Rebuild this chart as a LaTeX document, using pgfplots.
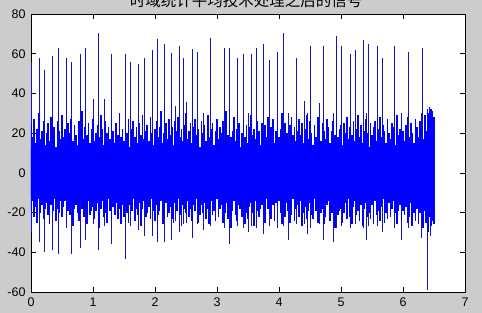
\documentclass[border=0pt]{standalone}
\usepackage{pgfplots}
\pgfplotsset{compat=1.18}
\usepackage{pgfplotstable}
\usepackage{fontspec}
\setmainfont{Liberation Sans}
\newfontfamily\cjk{Noto Sans CJK SC}
\definecolor{figbg}{RGB}{204,204,204}
\definecolor{sig}{RGB}{0,0,255}
\definecolor{spk}{RGB}{20,20,180}

\pgfplotstableread{
x t b
0.000 24 -19
0.025 18 -14
0.050 27 -22
0.075 15 -17
0.100 22 -25
0.125 30 -13
0.150 17 -20
0.175 21 -16
0.200 26 -23
0.225 14 -18
0.250 20 -15
0.275 25 -21
0.300 16 -26
0.325 28 -16
0.350 19 -19
0.375 23 -13
0.400 13 -24
0.425 26 -18
0.450 21 -20
0.475 17 -14
0.500 29 -22
0.525 18 -17
0.550 22 -14
0.575 15 -25
0.600 25 -19
0.625 20 -21
0.650 27 -15
0.675 16 -27
0.700 24 -18
0.725 19 -16
0.750 14 -20
0.775 26 -24
0.800 21 -13
0.825 31 -18
0.850 17 -22
0.875 23 -16
0.900 19 -26
0.925 25 -14
0.950 15 -21
0.975 22 -19
1.000 27 -17
1.025 16 -23
1.050 20 -19
1.075 24 -15
1.100 18 -28
1.125 29 -18
1.150 22 -14
1.175 14 -22
1.200 26 -20
1.225 20 -25
1.250 23 -13
1.275 17 -19
1.300 28 -24
1.325 21 -17
1.350 15 -21
1.375 25 -15
1.400 19 -23
1.425 30 -18
1.450 18 -26
1.475 22 -16
1.500 16 -22
1.525 24 -14
1.550 20 -20
1.575 27 -25
1.600 13 -16
1.625 22 -19
1.650 26 -13
1.675 18 -24
1.700 23 -18
1.725 15 -21
1.750 25 -15
1.775 19 -27
1.800 29 -18
1.825 17 -14
1.850 21 -22
1.875 24 -20
1.900 16 -17
1.925 28 -23
1.950 20 -13
1.975 14 -19
2.000 22 -24
2.025 26 -16
2.050 18 -21
2.075 23 -19
2.100 31 -14
2.125 15 -26
2.150 20 -18
2.175 25 -15
2.200 17 -22
2.225 27 -20
2.250 19 -17
2.275 23 -23
2.300 14 -25
2.325 26 -15
2.350 21 -19
2.375 28 -13
2.400 18 -21
2.425 22 -27
2.450 16 -16
2.475 24 -18
2.500 30 -20
2.525 17 -14
2.550 21 -22
2.575 25 -18
2.600 15 -24
2.625 23 -16
2.650 27 -19
2.675 19 -13
2.700 22 -25
2.725 13 -21
2.750 26 -16
2.775 20 -20
2.800 24 -15
2.825 16 -23
2.850 29 -18
2.875 18 -26
2.900 22 -14
2.925 25 -21
2.950 14 -19
2.975 21 -24
3.000 27 -13
3.025 17 -22
3.050 23 -18
3.075 20 -16
3.100 26 -25
3.125 15 -20
3.150 31 -15
3.175 19 -23
3.200 24 -17
3.225 18 -28
3.250 21 -19
3.275 28 -14
3.300 16 -21
3.325 22 -24
3.350 25 -16
3.375 13 -18
3.400 20 -22
3.425 27 -13
3.450 18 -26
3.475 24 -20
3.500 15 -23
3.525 23 -17
3.550 29 -15
3.575 19 -20
3.600 22 -27
3.625 17 -14
3.650 26 -19
3.675 21 -22
3.700 14 -18
3.725 25 -16
3.750 20 -21
3.775 24 -25
3.800 18 -13
3.825 28 -18
3.850 16 -20
3.875 23 -23
3.900 27 -16
3.925 15 -24
3.950 21 -15
3.975 26 -19
4.000 18 -14
4.025 22 -20
4.050 30 -26
4.075 17 -17
4.100 25 -22
4.125 20 -15
4.150 14 -19
4.175 24 -25
4.200 28 -21
4.225 19 -13
4.250 23 -24
4.275 16 -18
4.300 21 -16
4.325 27 -22
4.350 19 -14
4.375 25 -27
4.400 15 -20
4.425 22 -17
4.450 29 -23
4.475 17 -19
4.500 26 -15
4.525 20 -21
4.550 14 -23
4.575 24 -13
4.600 18 -19
4.625 28 -25
4.650 22 -16
4.675 16 -20
4.700 25 -18
4.725 21 -26
4.750 17 -22
4.775 27 -16
4.800 23 -14
4.825 15 -24
4.850 21 -20
4.875 26 -17
4.900 19 -28
4.925 30 -15
4.950 18 -21
4.975 22 -19
5.000 24 -18
5.025 14 -25
5.050 25 -20
5.075 20 -15
5.100 28 -23
5.125 17 -13
5.150 23 -22
5.175 19 -26
5.200 26 -17
5.225 16 -14
5.250 22 -21
5.275 29 -19
5.300 18 -24
5.325 24 -16
5.350 15 -27
5.375 21 -18
5.400 27 -15
5.425 20 -22
5.450 13 -20
5.475 25 -23
5.500 19 -16
5.525 23 -26
5.550 26 -14
5.575 16 -21
5.600 22 -19
5.625 28 -24
5.650 18 -17
5.675 24 -13
5.700 21 -25
5.725 15 -20
5.750 27 -23
5.775 20 -15
5.800 17 -22
5.825 25 -18
5.850 23 -14
5.875 14 -20
5.900 29 -26
5.925 19 -19
5.950 22 -16
5.975 26 -24
6.000 21 -19
6.025 16 -21
6.050 24 -17
6.075 28 -25
6.100 18 -22
6.125 25 -15
6.150 20 -27
6.175 15 -20
6.200 27 -24
6.225 23 -18
6.250 18 -26
6.275 26 -20
6.300 22 -23
6.325 17 -28
6.350 29 -19
6.375 21 -25
6.400 30 -30
6.425 33 -22
6.450 32 -27
6.475 31 -24
6.500 28 -26
}\body

\pgfplotstableread{
x t b
0.00 56 -30
0.14 58 -35
0.22 52 -40
0.34 59 -39
0.45 63 -41
0.57 58 -28
0.65 56 -41
0.79 60 -38
0.88 63 -34
1.00 37 -26
1.09 70.5 -39
1.19 37 -27
1.30 60 -36
1.52 60 -43.5
1.60 56 -27
1.73 55 -29
1.83 58 -32
1.96 62 -32
2.04 67.5 -35
2.15 65 -35
2.27 60.5 -34
2.33 33.5 -24
2.39 64 -30
2.46 58 -26
2.51 35.5 -25
2.60 62.5 -33
2.68 61 -26
2.78 30 -29
2.89 68 -27
3.12 63 -28
3.20 63 -36
3.33 58 -27
3.42 60 -28
3.50 30 -30
3.55 60 -27
3.63 63 -28
3.75 65 -31
3.84 57 -27
3.97 61 -28
4.07 70.5 -27
4.15 30 -34
4.28 58 -26
4.41 36 -26
4.46 30 -31
4.50 64 -28
4.65 35 -26
4.71 64 -34
4.88 30 -35
4.92 69 -28
5.00 64 -27
5.15 60 -28
5.23 62 -26
5.36 67 -28
5.41 30 -34
5.44 65 -27
5.58 64 -27
5.67 58 -30
5.87 64 -28
5.97 30 -34
6.09 61 -28
6.29 30 -33
6.31 63 -28
6.40 32 -59
6.45 30 -32
}\spikes

\begin{document}
\begin{tikzpicture}
\fill[figbg] (-31pt,-21pt) rectangle (451pt,292pt);
\begin{axis}[
  at={(0pt,0pt)}, anchor=south west,
  scale only axis, width=434pt, height=278pt,
  xmin=0, xmax=7, ymin=-60, ymax=80,
  axis background/.style={fill=white},
  xtick={0,1,2,3,4,5,6,7},
  xticklabels={0,1,2,3,4,5,6,7},
  ytick={-60,-40,-20,0,20,40,60,80},
  yticklabels={-60,-40,-20,0,20,40,60,80},
  tick align=inside,
  major tick length=5pt,
  axis line style={black, line width=0.6pt},
  tick style={black, line width=0.6pt},
  tick label style={font=\fontsize{12.5}{12.5}\selectfont},
  yticklabel style={xshift=-2pt},
  xticklabel style={yshift=-2pt},
]
\addplot[ycomb, spk, line width=0.9pt, no marks] table[x=x, y=t] {\spikes};
\addplot[ycomb, spk, line width=0.9pt, no marks] table[x=x, y=b] {\spikes};
\addplot[draw=none, fill=sig, forget plot] coordinates {(0,-12) (0,12.5) (6.5,12.5) (6.5,-12) (0,-12)};
\addplot[ycomb, sig, line width=1.65pt, no marks] table[x=x, y=t] {\body};
\addplot[ycomb, sig, line width=1.65pt, no marks] table[x=x, y=b] {\body};
\end{axis}
\node[anchor=base, inner sep=0pt, font=\cjk\fontsize{15.5}{15.5}\selectfont] at (215pt,285.5pt) {时域统计平均技术处理之后的信号};
\pgfresetboundingbox
\useasboundingbox (-31pt,-21pt) rectangle (451pt,292pt);
\end{tikzpicture}
\end{document}
